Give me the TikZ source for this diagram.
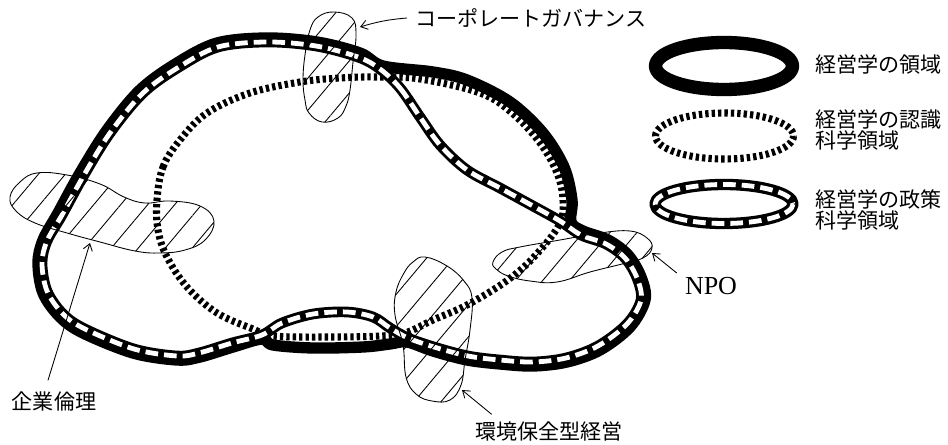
\documentclass[tikz,border=0pt]{standalone}
\usepackage{fontspec}
\setmainfont{Liberation Serif}
\newfontfamily\jpfont{Noto Sans CJK JP}
\usetikzlibrary{arrows.meta,patterns.meta}
\begin{document}
\begin{tikzpicture}[x=0.75pt,y=-0.75pt,
  mgmtline/.style={line width=8.5pt, line cap=round, line join=round},
  policyline/.style={line width=8pt, line cap=round, line join=round,
     postaction={draw=white, line width=3.6pt, line cap=butt, dash pattern=on 9.5pt off 4.5pt}},
  cognline/.style={line width=5.3pt, dash pattern=on 2.5pt off 2.3pt},
  hatchblob/.style={line width=0.65pt, pattern={Lines[angle=50,distance=15.5pt,line width=0.65pt]}},
  lab/.style={font=\jpfont\fontsize{15.8}{15.8}\selectfont, inner sep=0pt},
  ptr/.style={line width=0.65pt, -{Straight Barb[length=5pt,width=7pt]}},
]
\useasboundingbox (0,0) rectangle (948,445);

% cognitive science domain (dotted)
\draw[cognline] plot[smooth cycle, tension=0.6] coordinates {
 (157,200) (163,167) (180,140) (207,113) (250,93) (300,82) (340,78) (377,77)
 (420,79) (480,93) (512,113) (540,143) (557,173) (563,200) (559,225)
 (533,258) (505,282) (467,305) (433,320) (405,333) (380,336) (330,337)
 (273,336) (253,329) (217,313) (187,287) (167,257) (158,230)};

% management domain (solid)
\draw[mgmtline] plot[smooth cycle, tension=0.55] coordinates {
 (383,66) (433,72) (467,80) (510,102) (543,133) (564,167) (572,200) (571,222)
 (583,231) (608,240) (628,255) (641,277) (645,300) (630,327) (600,350)
 (567,362) (533,366) (500,364) (467,360) (433,351) (407,342)
 (390,344) (363,347) (313,348) (273,345) (262,339)
 (233,347) (200,357) (177,360) (133,353) (83,333) (60,317) (43,293)
 (38,263) (43,240) (58,213) (80,173) (107,130) (140,90) (177,63) (217,43)
 (267,38) (317,42) (360,53)};

% policy science domain
\draw[policyline] plot[smooth cycle, tension=0.55] coordinates {
 (380,69) (400,88) (420,117) (440,145) (467,170) (500,188) (533,206) (560,221)
 (581,235) (606,244) (625,258) (637,278) (641,300) (627,324) (598,346)
 (566,358) (533,362) (500,360) (468,356) (434,347) (408,338)
 (390,328) (373,317) (347,312) (313,314) (282,323) (262,335)
 (232,343) (199,353) (177,356) (134,349) (85,329) (63,314) (47,291)
 (42,263) (47,241) (62,215) (84,175) (110,133) (143,93) (179,67) (218,47)
 (267,42) (316,46) (358,57)};

% hatched areas
\draw[hatchblob] plot[smooth cycle, tension=0.7] coordinates {
 (334,12) (318,17) (310,30) (305,55) (303,80) (305,100) (309,113) (322,122)
 (338,118) (346,106) (350,90) (353,62) (356,35) (352,18)};
\draw[hatchblob] plot[smooth cycle, tension=0.7] coordinates {
 (10,197) (20,182) (37,173) (67,175) (100,184) (124,197) (145,203) (170,201)
 (200,206) (214,221) (205,240) (185,250) (160,253) (135,251) (100,242)
 (67,233) (35,223) (16,211)};
\draw[hatchblob] plot[smooth cycle, tension=0.7] coordinates {
 (425,257) (447,266) (464,281) (472,298) (470,330) (465,360) (461,385)
 (450,400) (432,401) (416,394) (406,377) (403,345) (395,315) (396,292)
 (404,273) (413,262)};
\draw[hatchblob] plot[smooth cycle, tension=0.7] coordinates {
 (493,262) (502,252) (520,247) (560,240) (600,233) (630,231) (647,238)
 (652,248) (643,258) (622,264) (590,272) (557,282) (530,281) (508,276) (496,269)};

% labels
\node[lab, anchor=west] (cgl) at (415,18) {コーポレートガバナンス};
\node[lab] (cel) at (54,401) {企業倫理};
\node[lab] (envl) at (549,431) {環境保全型経営};
\node[font=\fontsize{19.5}{20}\selectfont, inner sep=0pt] (npol) at (711,286) {NPO};

% pointers
\coordinate (cgt) at (360,27);
\coordinate (cet) at (90,243);
\coordinate (envt) at (462,390);
\coordinate (npot) at (652,253);
\draw[ptr] ([xshift=-6pt]cgl.west) to[bend right=6] (cgt);
\draw[ptr] ([xshift=-4.5pt,yshift=8pt]cel.north) -- (cet);
\draw[ptr] ([xshift=12.5pt,yshift=5pt]envl.north west) -- (envt);
\draw[ptr] ([xshift=-6pt,yshift=3pt]npol.north west) -- (npot);

% legend
\draw[mgmtline, line width=10pt] (724,66) ellipse [x radius=68.5, y radius=23.5];
\draw[cognline] (724.5,136) ellipse [x radius=69, y radius=23];
\draw[policyline, line width=8.5pt] (724,204) ellipse [x radius=69, y radius=19.5];
\node[lab, anchor=west] (lg1) at (815,64) {経営学の領域};
\node[lab, anchor=west, align=left] (lg2) at (815,130) {経営学の認識\\科学領域};
\node[lab, anchor=west, align=left] (lg3) at (815,210) {経営学の政策\\科学領域};
\end{tikzpicture}
\end{document}
